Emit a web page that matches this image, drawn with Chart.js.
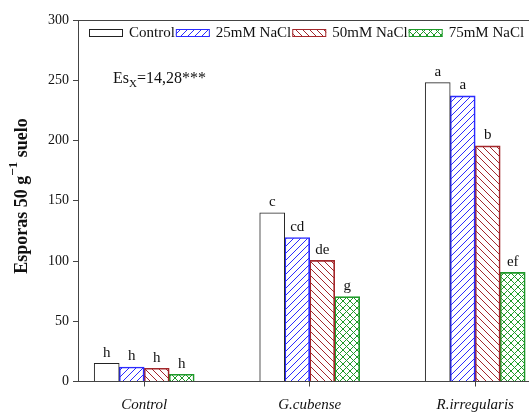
<!DOCTYPE html>
<html>
<head>
<meta charset="utf-8">
<script src="https://cdn.jsdelivr.net/npm/chart.js@4.4.0/dist/chart.umd.min.js"></script>
<style>
  html, body { margin: 0; padding: 0; background: #fff; }
</style>
</head>
<body>
<canvas id="chart" width="529" height="414"></canvas>
<script>
// data
const categories = ['Control', 'G.cubense', 'R.irregularis'];
const seriesNames = ['Control', '25mM NaCl', '50mM NaCl', '75mM NaCl'];
const controlValues = [15, 140, 248];
const nacl25Values = [12, 119.5, 237];
const nacl50Values = [11, 100.5, 195.5];
const nacl75Values = [6, 70.5, 90.5];
const controlLetters = ['h', 'c', 'a'];
const nacl25Letters = ['h', 'cd', 'a'];
const nacl50Letters = ['h', 'de', 'b'];
const nacl75Letters = ['h', 'g', 'ef'];
const yTicks = [0, 50, 100, 150, 200, 250, 300];

const serif = '"Liberation Serif", "Times New Roman", serif';

// hatch fills, '/' '\' or 'x'
function hatch(color, kind) {
  const c = document.createElement('canvas');
  c.width = 7;
  c.height = 7;
  const g = c.getContext('2d');
  g.strokeStyle = color;
  g.lineWidth = 1;
  g.beginPath();
  if (kind === '/' || kind === 'x') {
    g.moveTo(-1, 8); g.lineTo(8, -1);
    g.moveTo(-1, 1); g.lineTo(1, -1);
    g.moveTo(6, 8); g.lineTo(8, 6);
  }
  if (kind === '\\' || kind === 'x') {
    g.moveTo(-1, -1); g.lineTo(8, 8);
    g.moveTo(6, -1); g.lineTo(8, 1);
    g.moveTo(-1, 6); g.lineTo(1, 8);
  }
  g.stroke();
  return g.createPattern(c, 'repeat');
}

const blue = '#2b2bff';
const red = '#a3272b';
const green = '#1f9a2a';

function points(values) {
  return values.map((v, i) => ({ x: i, y: v }));
}

const datasets = [
  { label: seriesNames[0], data: points(controlValues), letters: controlLetters,
    backgroundColor: '#ffffff', borderColor: '#222222' },
  { label: seriesNames[1], data: points(nacl25Values), letters: nacl25Letters,
    backgroundColor: hatch(blue, '/'), borderColor: blue },
  { label: seriesNames[2], data: points(nacl50Values), letters: nacl50Letters,
    backgroundColor: hatch(red, '\\'), borderColor: red },
  { label: seriesNames[3], data: points(nacl75Values), letters: nacl75Letters,
    backgroundColor: hatch(green, 'x'), borderColor: green }
];
datasets.forEach(d => {
  d.borderWidth = 1;
  d.barThickness = 25;
});

// legend inside the plot, letters over bars, Es text, y title, top line
const extras = {
  id: 'extras',
  afterDatasetsDraw(chart) {
    const ctx = chart.ctx;
    const area = chart.chartArea;
    ctx.save();

    // top frame line
    ctx.strokeStyle = '#444';
    ctx.lineWidth = 1;
    ctx.beginPath();
    ctx.moveTo(area.left, Math.round(area.top) + 0.5);
    ctx.lineTo(area.right, Math.round(area.top) + 0.5);
    ctx.stroke();

    // letters
    ctx.fillStyle = '#111';
    ctx.font = '15px ' + serif;
    ctx.textAlign = 'center';
    ctx.textBaseline = 'bottom';
    chart.data.datasets.forEach((ds, di) => {
      chart.getDatasetMeta(di).data.forEach((bar, i) => {
        ctx.fillText(ds.letters[i], bar.x, bar.y - 3);
      });
    });

    // legend
    let x = 89;
    ctx.textAlign = 'left';
    ctx.textBaseline = 'middle';
    chart.data.datasets.forEach(ds => {
      ctx.fillStyle = ds.backgroundColor;
      ctx.fillRect(x, 29.5, 34, 7);
      ctx.strokeStyle = ds.borderColor;
      ctx.strokeRect(x + 0.5, 29.5, 33, 7);
      x += 40;
      ctx.fillStyle = '#111';
      ctx.fillText(ds.label, x, 33);
      x += ctx.measureText(ds.label).width + 1;
    });

    // Es_x text
    ctx.textBaseline = 'alphabetic';
    ctx.font = '16px ' + serif;
    ctx.fillText('Es', 113, 83);
    let ex = 113 + ctx.measureText('Es').width;
    ctx.font = '11px ' + serif;
    ctx.fillText('X', ex, 87);
    ex += ctx.measureText('X').width;
    ctx.font = '16px ' + serif;
    ctx.fillText('=14,28***', ex, 83);

    // y title with superscript
    const part1 = 'Esporas 50 g';
    const sup = '\u22121';
    const part2 = ' suelo';
    ctx.translate(22, 196);
    ctx.rotate(-Math.PI / 2);
    ctx.font = 'bold 18px ' + serif;
    const w1 = ctx.measureText(part1).width;
    const w3 = ctx.measureText(part2).width;
    ctx.font = 'bold 13px ' + serif;
    const w2 = ctx.measureText(sup).width;
    let tx = -(w1 + w2 + w3) / 2;
    ctx.textBaseline = 'alphabetic';
    ctx.font = 'bold 18px ' + serif;
    ctx.fillText(part1, tx, 5);
    tx += w1;
    ctx.font = 'bold 13px ' + serif;
    ctx.fillText(sup, tx, -5);
    tx += w2;
    ctx.font = 'bold 18px ' + serif;
    ctx.fillText(part2, tx, 5);

    ctx.restore();
  }
};

new Chart(document.getElementById('chart'), {
  type: 'bar',
  data: { datasets: datasets },
  plugins: [extras],
  options: {
    responsive: false,
    animation: false,
    devicePixelRatio: 1,
    layout: { padding: { top: 20, right: 0, left: 0, bottom: 0 } },
    plugins: {
      legend: { display: false },
      tooltip: { enabled: false }
    },
    scales: {
      x: {
        type: 'linear',
        offset: false,
        min: -0.4,
        max: 2.325,
        afterBuildTicks: s => { s.ticks = categories.map((c, i) => ({ value: i })); },
        afterFit: s => { s.height = 32.5; },
        grid: { offset: false, drawOnChartArea: false, tickLength: 5, color: '#444' },
        border: { color: '#444', width: 1 },
        ticks: {
          callback: v => categories[v],
          color: '#111',
          padding: 11,
          maxRotation: 0,
          autoSkip: false,
          font: { family: serif, size: 15, style: 'italic', lineHeight: 1 }
        }
      },
      y: {
        min: 0,
        max: 300,
        afterBuildTicks: s => { s.ticks = yTicks.map(v => ({ value: v })); },
        afterFit: s => { s.width = 78; },
        grid: { drawOnChartArea: false, tickLength: 5, color: '#444' },
        border: { color: '#444', width: 1 },
        ticks: {
          color: '#111',
          padding: 4,
          font: { family: serif, size: 14 }
        }
      }
    }
  }
});
</script>
</body>
</html>
